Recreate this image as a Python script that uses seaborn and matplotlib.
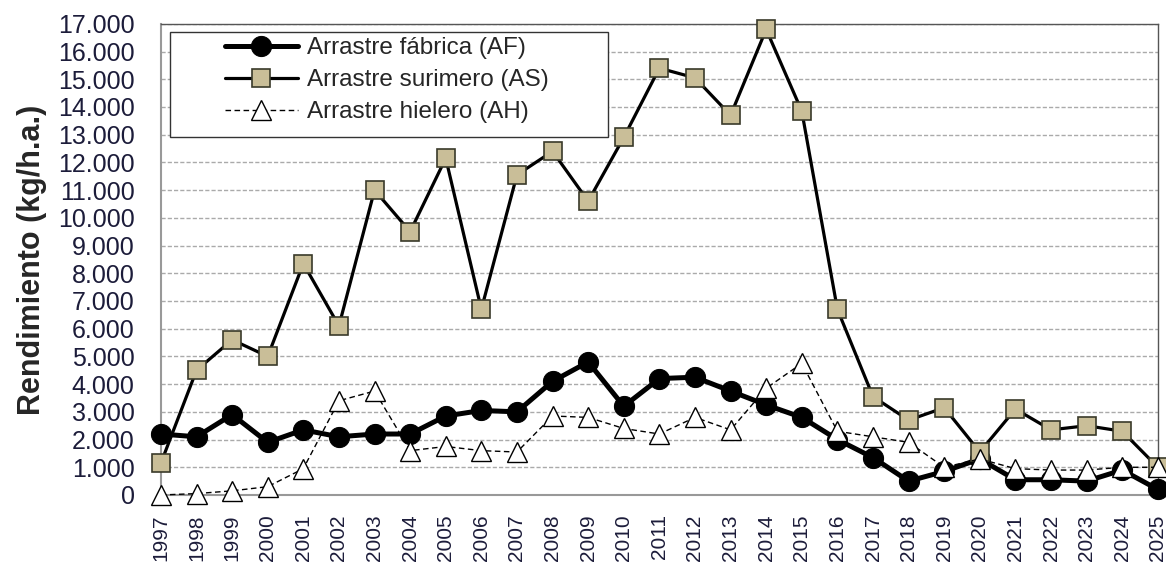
import numpy as np
import pandas as pd
import matplotlib
matplotlib.use('Agg')
import matplotlib.pyplot as plt
from matplotlib.patches import Rectangle
import seaborn as sns

years = list(range(1997, 2026))
af = [2200, 2100, 2900, 1900, 2350, 2100, 2200, 2200, 2850, 3050, 3000, 4100, 4800, 3200,
      4200, 4250, 3750, 3250, 2800, 2000, 1350, 500, 850, 1300, 550, 550, 500, 900, 200]
as_ = [1150, 4500, 5600, 5000, 8350, 6100, 11000, 9500, 12150, 6700, 11550, 12400, 10600, 12900,
       15400, 15050, 13700, 16800, 13850, 6700, 3550, 2700, 3150, 1550, 3100, 2350, 2500, 2300, 1000]
ah = [0, 50, 150, 300, 950, 3400, 3750, 1600, 1750, 1600, 1550, 2850, 2800, 2400,
      2200, 2800, 2350, 3850, 4750, 2300, 2100, 1900, 1000, 1300, 950, 900, 900, 1000, 1000]
labels = ["Arrastre fábrica (AF)", "Arrastre surimero (AS)", "Arrastre hielero (AH)"]

sns.set_style("white")
plt.rcParams['font.family'] = ['Liberation Sans', 'DejaVu Sans']

fig = plt.figure(figsize=(11.66, 5.67), dpi=100)
ax = fig.add_axes([0.138, 0.127, 0.855, 0.831])

sns.lineplot(x=years, y=af, ax=ax, color='black', lw=3.6, marker='o', markersize=14.5,
             markerfacecolor='black', markeredgecolor='black', label=labels[0], zorder=3)
sns.lineplot(x=years, y=as_, ax=ax, color='black', lw=2.3, marker='s', markersize=12.5,
             markerfacecolor='#C9BE98', markeredgecolor='#3a3a2a', markeredgewidth=1.2,
             label=labels[1], zorder=4)
sns.lineplot(x=years, y=ah, ax=ax, color='black', lw=1.0, ls=(0, (4, 2.5)), marker='^', markersize=15,
             markerfacecolor='white', markeredgecolor='black', markeredgewidth=1.0,
             label=labels[2], zorder=5)

ax.set_xlim(1997, 2025)
ax.set_ylim(0, 17000)
ax.set_yticks(range(0, 17001, 1000))
ax.set_yticklabels([f"{v:,}".replace(",", ".") for v in range(0, 17001, 1000)],
                   fontsize=18, color='#1c1c3a')
ax.set_xticks(years)
ax.set_xticklabels([str(y) for y in years], rotation=90, fontsize=15, color='#1c1c3a')
ax.tick_params(axis='y', direction='out', length=5, width=1, color='#999999', pad=14)
ax.tick_params(axis='x', direction='out', length=5, width=1, color='#999999', pad=9)

ax.yaxis.grid(True, ls=(0, (3, 1.5)), color='#aaaaaa', lw=1.0)
ax.set_axisbelow(True)
for side in ['left', 'bottom']:
    ax.spines[side].set_color('#999999')
    ax.spines[side].set_linewidth(1.5)
for side in ['top', 'right']:
    ax.spines[side].set_color('#555555')
    ax.spines[side].set_linewidth(1.0)
for sp in ax.spines.values():
    sp.set_zorder(1)

ax.set_ylabel("Rendimiento (kg/h.a.)", fontsize=22, fontweight='bold', labelpad=8)
ax.set_xlabel("")

for line in ax.get_lines():
    line.set_clip_on(False)

# legend frame drawn separately (Excel-like fixed box)
ax.add_patch(Rectangle((0.009, 0.760), 0.439, 0.223, transform=ax.transAxes,
                       facecolor='white', edgecolor='#333333', lw=1.0, zorder=2))
leg = ax.legend(loc='upper left', bbox_to_anchor=(0.064, 0.972), fontsize=17.5, frameon=False,
                borderpad=0, handlelength=3.0, handletextpad=0.4, labelspacing=0.42,
                borderaxespad=0)
leg.set_zorder(6)

fig.savefig("out.png", dpi=100)
